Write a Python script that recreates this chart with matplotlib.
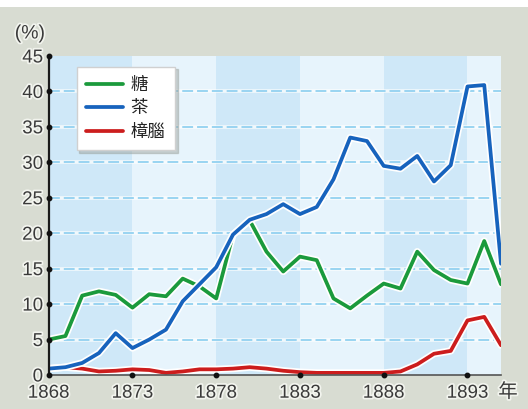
import matplotlib
matplotlib.use("Agg")
import matplotlib.pyplot as plt
import matplotlib.patheffects as pe
import numpy as np

# share of exports (%) by year
years = list(range(1868, 1896))
sugar = [5.0, 5.5, 11.2, 11.8, 11.3, 9.5, 11.4, 11.1, 13.6, 12.5, 10.8, 19.8, 21.8, 17.4,
         14.6, 16.7, 16.2, 10.8, 9.4, 11.2, 12.9, 12.2, 17.4, 14.8, 13.4, 12.9, 18.9, 12.8]
tea = [0.9, 1.1, 1.7, 3.1, 5.9, 3.8, 5.0, 6.4, 10.4, 12.8, 15.2, 19.8, 21.9, 22.7,
       24.1, 22.7, 23.7, 27.6, 33.5, 33.0, 29.5, 29.1, 30.9, 27.3, 29.6, 40.7, 40.9, 15.7]
camphor = [0.9, 1.1, 0.9, 0.5, 0.6, 0.8, 0.7, 0.3, 0.5, 0.8, 0.8, 0.9, 1.1, 0.9,
           0.6, 0.4, 0.3, 0.3, 0.3, 0.3, 0.3, 0.5, 1.5, 3.0, 3.4, 7.7, 8.2, 4.2]
names = ["糖", "茶", "樟腦"]
xticks = [1868, 1873, 1878, 1883, 1888, 1893]
yticks = [0, 5, 10, 15, 20, 25, 30, 35, 40, 45]

plt.rcParams['font.family'] = ['Liberation Sans', 'Noto Sans CJK TC', 'DejaVu Sans']

W, H = 528, 409
fig = plt.figure(figsize=(W / 100, H / 100), dpi=100)
fig.patch.set_facecolor('#d8dcd2')
# white strip along the top edge
fig.patches.append(plt.Rectangle((0, 1 - 7 / H), 1, 7 / H, transform=fig.transFigure,
                                 facecolor='white', edgecolor='none', zorder=0))

ax = fig.add_axes([48.7 / W, 1 - 375 / H, (501 - 48.7) / W, (375 - 56) / H])
ax.set_facecolor('#e7f4fc')
ax.set_xlim(1868, 1895)
ax.set_ylim(0, 45)

for x0 in xticks[::2]:
    ax.axvspan(x0, x0 + 5, color='#cfe8f8', lw=0, zorder=0)

for y in yticks[1:-1]:
    ax.axhline(y, color='white', lw=2.6, alpha=0.7, zorder=1)
    ax.axhline(y, color='#92d1f0', lw=1.3, dashes=(6, 2.2), zorder=1.1)

halo = [pe.Stroke(linewidth=5.2, foreground='white'), pe.Normal()]
ax.plot(years, camphor, color='#cc1d1d', lw=2.7, label=names[2], zorder=3,
        solid_joinstyle='round', solid_capstyle='round', path_effects=halo)
ax.plot(years, sugar, color='#1b9a3c', lw=2.7, label=names[0], zorder=4,
        solid_joinstyle='round', solid_capstyle='round', path_effects=halo)
ax.plot(years, tea, color='#1763bd', lw=2.7, label=names[1], zorder=5,
        solid_joinstyle='round', solid_capstyle='round', path_effects=halo)

for s in ['top', 'right']:
    ax.spines[s].set_visible(False)
ax.spines['left'].set_color('#1a1a1a')
ax.spines['left'].set_linewidth(1.6)
ax.spines['bottom'].set_color('#555555')
ax.spines['bottom'].set_linewidth(1.2)
ax.spines['left'].set_zorder(6)
ax.spines['bottom'].set_zorder(6)

# dot markers instead of tick marks
ax.plot([1868] * len(yticks), yticks, 'o', ms=3.2, color='#111111', clip_on=False, zorder=7)
ax.plot(xticks[1:], [0] * (len(xticks) - 1), 'o', ms=3.2, color='#111111', clip_on=False, zorder=7)

glow = [pe.withStroke(linewidth=2.5, foreground='#f2f4ee')]
ax.set_xticks(xticks)
ax.set_yticks(yticks)
ax.tick_params(length=0, labelsize=13.5, labelcolor='#3a3a3a')
ax.tick_params(axis='y', pad=4)
ax.tick_params(axis='x', pad=7)
for lab in ax.get_xticklabels() + ax.get_yticklabels():
    lab.set_path_effects(glow)

fig.text(30 / W, 1 - 34 / H, "(%)", ha='center', va='center', fontsize=14,
         color='#3a3a3a', path_effects=glow)
fig.text(508 / W, 1 - 392 / H, "年", ha='center', va='center', fontsize=14,
         color='#3a3a3a', family=['Noto Sans CJK TC'], path_effects=glow)

h, l = ax.get_legend_handles_labels()
order = [1, 2, 0]
leg = fig.legend([h[i] for i in order], [l[i] for i in order],
                 loc='upper left', bbox_to_anchor=(76.7 / W, 1 - 66.7 / H),
                 borderaxespad=0, fancybox=False, frameon=True,
                 shadow={'color': '#9aa09a', 'alpha': 0.45, 'ox': 2, 'oy': -2},
                 prop={'family': ['Noto Sans CJK TC'], 'size': 12.5},
                 handlelength=2.1, handletextpad=0.45, labelspacing=0.3,
                 borderpad=0.55)
leg.get_frame().set_facecolor('white')
leg.get_frame().set_edgecolor('#d0d0d0')
leg.get_frame().set_linewidth(1.0)
leg.get_frame().set_alpha(1)
for t in leg.get_texts():
    t.set_color('#222222')
for ln in leg.get_lines():
    ln.set_path_effects([])
    ln.set_linewidth(2.7)

fig.savefig("out.png", dpi=100, facecolor=fig.get_facecolor())
